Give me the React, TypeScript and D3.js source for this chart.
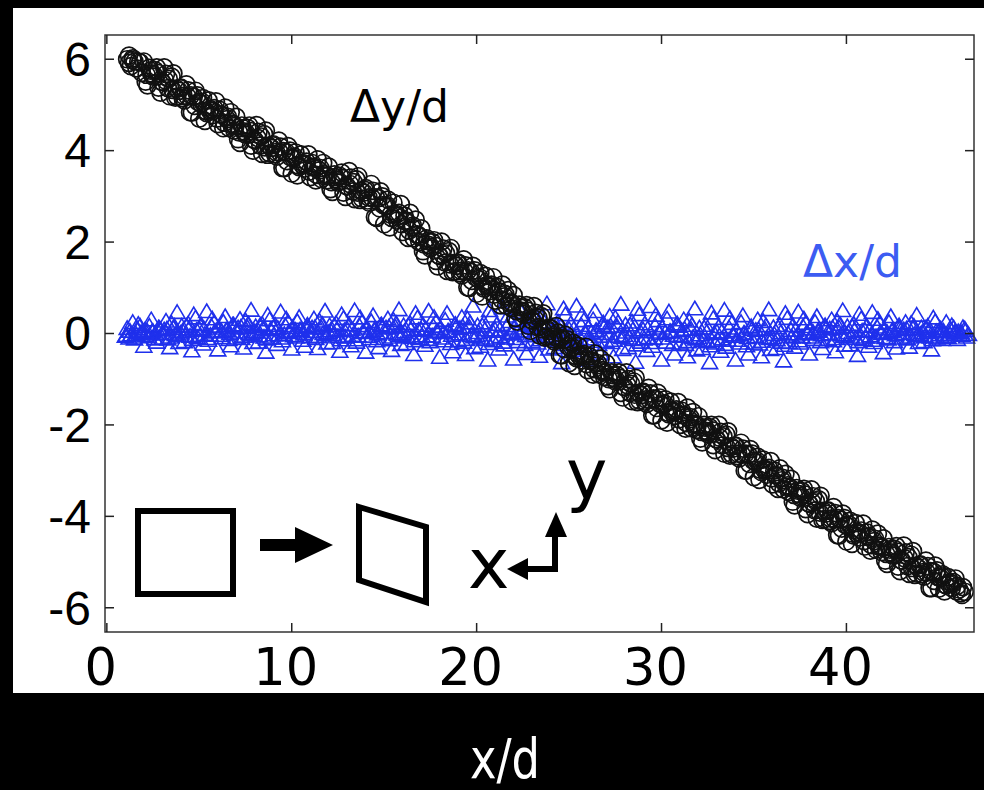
import React from 'react';
import * as d3 from 'd3';

// Δy/d series (black open circles)
const dyPoints: [number, number][] = [
  [1.1, 6.0], [1.2, 6.08], [1.3, 5.85], [1.4, 6.02], [1.5, 5.95], [1.7, 5.95], [1.9, 5.7],
  [2.1, 5.51], [2.3, 5.81], [2.5, 5.62], [2.7, 5.82], [2.9, 5.27],
  [3.1, 5.82], [3.3, 5.37], [3.5, 5.62], [3.7, 5.16], [3.9, 5.31],
  [4.1, 5.15], [4.3, 5.45], [4.5, 4.84], [4.7, 5.18], [4.9, 5.21],
  [5.1, 5.03], [5.3, 4.65], [5.5, 5.1], [5.7, 4.78], [5.9, 5.08],
  [6.1, 4.89], [6.3, 4.49], [6.5, 4.69], [6.7, 4.84], [6.9, 4.44],
  [7.1, 4.25], [7.3, 4.55], [7.5, 4.35], [7.7, 4.55], [7.9, 4.0],
  [8.1, 4.56], [8.3, 4.11], [8.5, 4.36], [8.7, 3.91], [8.9, 4.06],
  [9.1, 3.92], [9.3, 4.22], [9.5, 3.62], [9.7, 3.97], [9.9, 4.0],
  [10.1, 3.83], [10.3, 3.46], [10.5, 3.92], [10.7, 3.61], [10.9, 3.92],
  [11.1, 3.73], [11.3, 3.35], [11.5, 3.57], [11.7, 3.73], [11.9, 3.35],
  [12.1, 3.16], [12.3, 3.48], [12.5, 3.3], [12.7, 3.52], [12.9, 2.99],
  [13.1, 3.55], [13.3, 3.11], [13.5, 3.37], [13.7, 2.92], [13.9, 3.08],
  [14.1, 2.91], [14.3, 3.27], [14.5, 2.55], [14.7, 2.96], [14.9, 3.0],
  [15.1, 2.78], [15.3, 2.32], [15.5, 2.86], [15.7, 2.47], [15.9, 2.83],
  [16.1, 2.58], [16.3, 2.09], [16.5, 2.32], [16.7, 2.49], [16.9, 2.0],
  [17.1, 1.8], [17.3, 2.08], [17.5, 1.86], [17.7, 2.04], [17.9, 1.47],
  [18.1, 2.01], [18.3, 1.55], [18.5, 1.8], [18.7, 1.34], [18.9, 1.48],
  [19.1, 1.32], [19.3, 1.62], [19.5, 1.01], [19.7, 1.35], [19.9, 1.38],
  [20.1, 1.19], [20.3, 0.81], [20.5, 1.26], [20.7, 0.93], [20.9, 1.23],
  [21.1, 1.02], [21.3, 0.62], [21.5, 0.81], [21.7, 0.95], [21.9, 0.55],
  [22.1, 0.34], [22.3, 0.63], [22.5, 0.43], [22.7, 0.62], [22.9, 0.06],
  [23.1, 0.6], [23.3, 0.14], [23.5, 0.38], [23.7, -0.09], [23.9, 0.05],
  [24.1, -0.12], [24.3, 0.16], [24.5, -0.47], [24.7, -0.14], [24.9, -0.13],
  [25.1, -0.33], [25.3, -0.71], [25.5, -0.27], [25.7, -0.59], [25.9, -0.29],
  [26.1, -0.5], [26.3, -0.9], [26.5, -0.7], [26.7, -0.55], [26.9, -0.95],
  [27.1, -1.15], [27.3, -0.85], [27.5, -1.05], [27.7, -0.85], [27.9, -1.4],
  [28.1, -0.85], [28.3, -1.3], [28.5, -1.05], [28.7, -1.5], [28.9, -1.35],
  [29.1, -1.49], [29.3, -1.19], [29.5, -1.79], [29.7, -1.43], [29.9, -1.4],
  [30.1, -1.57], [30.3, -1.95], [30.5, -1.49], [30.7, -1.8], [30.9, -1.5],
  [31.1, -1.69], [31.3, -2.08], [31.5, -1.88], [31.7, -1.72], [31.9, -2.11],
  [32.1, -2.3], [32.3, -2.0], [32.5, -2.2], [32.7, -2.0], [32.9, -2.55],
  [33.1, -2.0], [33.3, -2.45], [33.5, -2.21], [33.7, -2.67], [33.9, -2.52],
  [34.1, -2.68], [34.3, -2.39], [34.5, -3.0], [34.7, -2.65], [34.9, -2.63],
  [35.1, -2.82], [35.3, -3.2], [35.5, -2.76], [35.7, -3.09], [35.9, -2.79],
  [36.1, -3.0], [36.3, -3.4], [36.5, -3.21], [36.7, -3.07], [36.9, -3.47],
  [37.1, -3.68], [37.3, -3.38], [37.5, -3.59], [37.7, -3.4], [37.9, -3.95],
  [38.1, -3.41], [38.3, -3.87], [38.5, -3.63], [38.7, -4.08], [38.9, -3.94],
  [39.1, -4.1], [39.3, -3.8], [39.5, -4.41], [39.7, -4.07], [39.9, -4.04],
  [40.1, -4.22], [40.3, -4.6], [40.5, -4.15], [40.7, -4.46], [40.9, -4.16],
  [41.1, -4.35], [41.3, -4.75], [41.5, -4.54], [41.7, -4.38], [41.9, -4.78],
  [42.1, -4.97], [42.3, -4.67], [42.5, -4.86], [42.7, -4.65], [42.9, -5.2],
  [43.1, -4.64], [43.3, -5.09], [43.5, -4.84], [43.7, -5.28], [43.9, -5.13],
  [44.1, -5.27], [44.3, -4.97], [44.5, -5.57], [44.7, -5.21], [44.9, -5.18],
  [45.1, -5.35], [45.3, -5.64], [45.5, -5.33], [45.7, -5.57], [45.9, -5.36],
  [46.1, -5.6], [46.25, -5.72], [46.3, -5.55], [46.4, -5.65],
  // second pass over the band
  [1.2, 5.92], [1.4, 5.98], [1.6, 5.8], [1.8, 5.93],
  [2.0, 5.95], [2.2, 5.43], [2.4, 5.69], [2.6, 5.76], [2.8, 5.38],
  [3.0, 5.5], [3.2, 5.68], [3.4, 5.19], [3.6, 5.69], [3.8, 5.18],
  [4.0, 5.38], [4.2, 5.1], [4.4, 5.32], [4.6, 4.83], [4.8, 5.31],
  [5.0, 4.7], [5.2, 5.15], [5.4, 4.82], [5.6, 4.91], [5.8, 4.93],
  [6.0, 4.58], [6.2, 4.79], [6.4, 4.94], [6.6, 4.5], [6.8, 4.59],
  [7.0, 4.74], [7.2, 4.17], [7.4, 4.42], [7.6, 4.5], [7.8, 4.11],
  [8.0, 4.23], [8.2, 4.41], [8.4, 3.93], [8.6, 4.44], [8.8, 3.94],
  [9.0, 4.14], [9.2, 3.87], [9.4, 4.09], [9.6, 3.62], [9.8, 4.1],
  [10.0, 3.5], [10.2, 3.96], [10.4, 3.64], [10.6, 3.73], [10.8, 3.76],
  [11.0, 3.42], [11.2, 3.65], [11.4, 3.81], [11.6, 3.38], [11.8, 3.48],
  [12.0, 3.65], [12.2, 3.1], [12.4, 3.37], [12.6, 3.45], [12.8, 3.08],
  [13.0, 3.22], [13.2, 3.41], [13.4, 2.94], [13.6, 3.44], [13.8, 2.95],
  [14.0, 3.18], [14.2, 2.86], [14.4, 3.12], [14.6, 2.53], [14.8, 3.11],
  [15.0, 2.39], [15.2, 2.93], [15.4, 2.53], [15.6, 2.62], [15.8, 2.64],
  [16.0, 2.22], [16.2, 2.47], [16.4, 2.64], [16.6, 2.08], [16.8, 2.17],
  [17.0, 2.3], [17.2, 1.71], [17.4, 1.94], [17.6, 2.0], [17.8, 1.59],
  [18.0, 1.69], [18.2, 1.86], [18.4, 1.37], [18.6, 1.87], [18.8, 1.36],
  [19.0, 1.55], [19.2, 1.27], [19.4, 1.49], [19.6, 1.0], [19.8, 1.48],
  [20.0, 0.87], [20.2, 1.32], [20.4, 0.98], [20.6, 1.06], [20.8, 1.07],
  [21.0, 0.72], [21.2, 0.92], [21.4, 1.07], [21.6, 0.61], [21.8, 0.7],
  [22.0, 0.84], [22.2, 0.26], [22.4, 0.5], [22.6, 0.57], [22.8, 0.17],
  [23.0, 0.28], [23.2, 0.45], [23.4, -0.04], [23.6, 0.44], [23.8, -0.07],
  [24.0, 0.12], [24.2, -0.17], [24.4, 0.02], [24.6, -0.48], [24.8, -0.03],
  [25.0, -0.65], [25.2, -0.2], [25.4, -0.54], [25.6, -0.46], [25.8, -0.45],
  [26.0, -0.8], [26.2, -0.59], [26.4, -0.44], [26.6, -0.89], [26.8, -0.8],
  [27.0, -0.65], [27.2, -1.22], [27.4, -0.97], [27.6, -0.91], [27.8, -1.3],
  [28.0, -1.18], [28.2, -1.0], [28.4, -1.48], [28.6, -0.97], [28.8, -1.47],
  [29.0, -1.27], [29.2, -1.54], [29.4, -1.31], [29.6, -1.79], [29.8, -1.3],
  [30.0, -1.9], [30.2, -1.44], [30.4, -1.77], [30.6, -1.68], [30.8, -1.66],
  [31.0, -2.0], [31.2, -1.78], [31.4, -1.62], [31.6, -2.07], [31.8, -1.97],
  [32.0, -1.81], [32.2, -2.38], [32.4, -2.13], [32.6, -2.05], [32.8, -2.44],
  [33.0, -2.32], [33.2, -2.15], [33.4, -2.63], [33.6, -2.14], [33.8, -2.64],
  [34.0, -2.45], [34.2, -2.73], [34.4, -2.52], [34.6, -3.0], [34.8, -2.53],
  [35.0, -3.14], [35.2, -2.7], [35.4, -3.03], [35.6, -2.96], [35.8, -2.94],
  [36.0, -3.3], [36.2, -3.1], [36.4, -2.95], [36.6, -3.41], [36.8, -3.32],
  [37.0, -3.18], [37.2, -3.76], [37.4, -3.51], [37.6, -3.45], [37.8, -3.84],
  [38.0, -3.73], [38.2, -3.56], [38.4, -4.05], [38.6, -3.55], [38.8, -4.06],
  [39.0, -3.87], [39.2, -4.15], [39.4, -3.93], [39.6, -4.42], [39.8, -3.94],
  [40.0, -4.55], [40.2, -4.1], [40.4, -4.42], [40.6, -4.34], [40.8, -4.31],
  [41.0, -4.66], [41.2, -4.44], [41.4, -4.29], [41.6, -4.73], [41.8, -4.64],
  [42.0, -4.48], [42.2, -5.04], [42.4, -4.79], [42.6, -4.71], [42.8, -5.1],
  [43.0, -4.97], [43.2, -4.79], [43.4, -5.26], [43.6, -4.76], [43.8, -5.25],
  [44.0, -5.05], [44.2, -5.32], [44.4, -5.09], [44.6, -5.57], [44.8, -5.08],
  [45.0, -5.58], [45.2, -5.27], [45.4, -5.51], [45.6, -5.45], [45.8, -5.44],
  [46.0, -5.52], [46.2, -5.68],
  // band core
  [2.15, 5.66], [2.35, 5.75], [2.55, 5.65], [2.75, 5.7], [2.95, 5.51],
  [3.15, 5.54], [3.35, 5.57], [3.55, 5.33], [3.75, 5.36], [3.95, 5.37],
  [4.15, 5.2], [4.35, 5.19], [4.55, 5.21], [4.75, 4.98], [4.95, 5.06],
  [5.15, 5.07], [5.35, 4.87], [5.55, 4.88], [5.75, 4.87], [5.95, 4.7],
  [6.15, 4.79], [6.35, 4.61], [6.55, 4.74], [6.75, 4.56], [6.95, 4.54],
  [7.15, 4.4], [7.35, 4.49], [7.55, 4.38], [7.75, 4.43], [7.95, 4.24],
  [8.15, 4.28], [8.35, 4.31], [8.55, 4.07], [8.75, 4.11], [8.95, 4.12],
  [9.15, 3.97], [9.35, 3.96], [9.55, 3.99], [9.75, 3.77], [9.95, 3.85],
  [10.15, 3.87], [10.35, 3.68], [10.55, 3.7], [10.75, 3.7], [10.95, 3.54],
  [11.15, 3.63], [11.35, 3.47], [11.55, 3.62], [11.75, 3.45], [11.95, 3.45],
  [12.15, 3.31], [12.35, 3.42], [12.55, 3.33], [12.75, 3.4], [12.95, 3.23],
  [13.15, 3.27], [13.35, 3.31], [13.55, 3.08], [13.75, 3.12], [13.95, 3.14],
  [14.15, 2.98], [14.35, 2.96], [14.55, 2.98], [14.75, 2.74], [14.95, 2.81],
  [15.15, 2.81], [15.35, 2.6], [15.55, 2.6], [15.75, 2.57], [15.95, 2.39],
  [16.15, 2.45], [16.35, 2.25], [16.55, 2.36], [16.75, 2.16], [16.95, 2.12],
  [17.15, 1.95], [17.35, 2.02], [17.55, 1.89], [17.75, 1.92], [17.95, 1.71],
  [18.15, 1.73], [18.35, 1.75], [18.55, 1.51], [18.75, 1.54], [18.95, 1.54],
  [19.15, 1.37], [19.35, 1.36], [19.55, 1.38], [19.75, 1.15], [19.95, 1.23],
  [20.15, 1.23], [20.35, 1.03], [20.55, 1.04], [20.75, 1.02], [20.95, 0.85],
  [21.15, 0.92], [21.35, 0.74], [21.55, 0.86], [21.75, 0.67], [21.95, 0.65],
  [22.15, 0.49], [22.35, 0.57], [22.55, 0.46], [22.75, 0.5], [22.95, 0.3],
  [23.15, 0.32], [23.35, 0.34], [23.55, 0.09], [23.75, 0.11], [23.95, 0.11],
  [24.15, -0.07], [24.35, -0.1], [24.55, -0.1], [24.75, -0.34], [24.95, -0.28],
  [25.15, -0.29], [25.35, -0.49], [25.55, -0.49], [25.75, -0.5], [25.95, -0.67],
  [26.15, -0.6], [26.35, -0.78], [26.55, -0.65], [26.75, -0.83], [26.95, -0.85],
  [27.15, -1.0], [27.35, -0.91], [27.55, -1.02], [27.75, -0.97], [27.95, -1.16],
  [28.15, -1.13], [28.35, -1.1], [28.55, -1.34], [28.75, -1.3], [28.95, -1.29],
  [29.15, -1.44], [29.35, -1.45], [29.55, -1.42], [29.75, -1.63], [29.95, -1.55],
  [30.15, -1.53], [30.35, -1.73], [30.55, -1.71], [30.75, -1.71], [30.95, -1.88],
  [31.15, -1.79], [31.35, -1.96], [31.55, -1.83], [31.75, -2.0], [31.95, -2.01],
  [32.15, -2.15], [32.35, -2.06], [32.55, -2.17], [32.75, -2.12], [32.95, -2.31],
  [33.15, -2.28], [33.35, -2.25], [33.55, -2.5], [33.75, -2.47], [33.95, -2.46],
  [34.15, -2.63], [34.35, -2.65], [34.55, -2.63], [34.75, -2.85], [34.95, -2.78],
  [35.15, -2.78], [35.35, -2.98], [35.55, -2.98], [35.75, -3.0], [35.95, -3.17],
  [36.15, -3.1], [36.35, -3.28], [36.55, -3.16], [36.75, -3.35], [36.95, -3.37],
  [37.15, -3.53], [37.35, -3.44], [37.55, -3.56], [37.75, -3.52], [37.95, -3.71],
  [38.15, -3.69], [38.35, -3.67], [38.55, -3.92], [38.75, -3.88], [38.95, -3.88],
  [39.15, -4.05], [39.35, -4.06], [39.55, -4.04], [39.75, -4.27], [39.95, -4.19],
  [40.15, -4.18], [40.35, -4.38], [40.55, -4.37], [40.75, -4.37], [40.95, -4.54],
  [41.15, -4.45], [41.35, -4.63], [41.55, -4.49], [41.75, -4.66], [41.95, -4.68],
  [42.15, -4.82], [42.35, -4.73], [42.55, -4.83], [42.75, -4.77], [42.95, -4.96],
  [43.15, -4.92], [43.35, -4.89], [43.55, -5.13], [43.75, -5.08], [43.95, -5.07],
  [44.15, -5.22], [44.35, -5.23], [44.55, -5.2], [44.75, -5.41], [44.95, -5.33],
  [45.15, -5.31], [45.35, -5.5], [45.55, -5.48], [45.75, -5.48], [45.95, -5.64],
];

// Δx/d series (blue open triangles)
const dxPoints: [number, number][] = [
  [1.0, -0.08], [1.2, -0.12], [1.4, 0.22], [1.6, -0.05], [1.8, 0.14],
  [2.0, -0.3], [2.2, 0.02], [2.4, 0.28], [2.6, -0.14], [2.8, 0.1],
  [3.0, -0.12], [3.2, 0.25], [3.4, -0.33], [3.6, 0.09], [3.8, 0.44],
  [4.0, -0.01], [4.2, -0.2], [4.4, 0.19], [4.6, -0.4], [4.8, 0.32],
  [5.0, 0.08], [5.2, -0.25], [5.4, 0.46], [5.6, -0.06], [5.8, 0.21],
  [6.0, -0.38], [6.2, 0.03], [6.4, 0.35], [6.6, -0.15], [6.8, 0.16],
  [7.0, -0.12], [7.2, 0.29], [7.4, -0.34], [7.6, 0.11], [7.8, 0.49],
  [8.0, 0.02], [8.2, -0.21], [8.4, 0.18], [8.6, -0.43], [8.8, 0.28],
  [9.0, 0.1], [9.2, -0.26], [9.4, 0.45], [9.6, -0.04], [9.8, 0.22],
  [10.0, -0.36], [10.2, 0.05], [10.4, 0.33], [10.6, -0.17], [10.8, 0.13],
  [11.0, -0.09], [11.2, 0.3], [11.4, -0.35], [11.6, 0.1], [11.8, 0.47],
  [12.0, 0.0], [12.2, -0.22], [12.4, 0.2], [12.6, -0.41], [12.8, 0.31],
  [13.0, 0.07], [13.2, -0.29], [13.4, 0.48], [13.6, -0.08], [13.8, 0.22],
  [14.0, -0.43], [14.2, 0.02], [14.4, 0.37], [14.6, -0.18], [14.8, 0.15],
  [15.0, -0.13], [15.2, 0.3], [15.4, -0.39], [15.6, 0.12], [15.8, 0.5],
  [16.0, -0.03], [16.2, -0.24], [16.4, 0.2], [16.6, -0.48], [16.8, 0.32],
  [17.0, 0.07], [17.2, -0.28], [17.4, 0.47], [17.6, -0.08], [17.8, 0.22],
  [18.0, -0.54], [18.2, 0.0], [18.4, 0.42], [18.6, -0.24], [18.8, 0.15],
  [19.0, -0.18], [19.2, 0.33], [19.4, -0.48], [19.6, 0.12], [19.8, 0.58],
  [20.0, -0.06], [20.2, -0.3], [20.4, 0.21], [20.6, -0.6], [20.8, 0.36],
  [21.0, 0.06], [21.2, -0.36], [21.4, 0.54], [21.6, -0.12], [21.8, 0.24],
  [22.0, -0.58], [22.2, 0.02], [22.4, 0.45], [22.6, -0.26], [22.8, 0.16],
  [23.0, -0.2], [23.2, 0.36], [23.4, -0.52], [23.6, 0.13], [23.8, 0.63],
  [24.0, -0.07], [24.2, -0.33], [24.4, 0.23], [24.6, -0.66], [24.8, 0.39],
  [25.0, 0.07], [25.2, -0.39], [25.4, 0.58], [25.6, -0.13], [25.8, 0.26],
  [26.0, -0.6], [26.2, 0.0], [26.4, 0.46], [26.6, -0.26], [26.8, 0.16],
  [27.0, -0.2], [27.2, 0.36], [27.4, -0.53], [27.6, 0.13], [27.8, 0.62],
  [28.0, -0.06], [28.2, -0.33], [28.4, 0.23], [28.6, -0.65], [28.8, 0.39],
  [29.0, 0.06], [29.2, -0.39], [29.4, 0.57], [29.6, -0.13], [29.8, 0.26],
  [30.0, -0.6], [30.2, 0.0], [30.4, 0.45], [30.6, -0.26], [30.8, 0.16],
  [31.0, -0.23], [31.2, 0.28], [31.4, -0.53], [31.6, 0.07], [31.8, 0.52],
  [32.0, -0.11], [32.2, -0.35], [32.4, 0.16], [32.6, -0.66], [32.8, 0.31],
  [33.0, 0.01], [33.2, -0.41], [33.4, 0.49], [33.6, -0.17], [33.8, 0.2],
  [34.0, -0.6], [34.2, -0.05], [34.4, 0.37], [34.6, -0.29], [34.8, 0.1],
  [35.0, -0.23], [35.2, 0.28], [35.4, -0.53], [35.6, 0.07], [35.8, 0.5],
  [36.0, -0.11], [36.2, -0.35], [36.4, 0.16], [36.6, -0.62], [36.8, 0.31],
  [37.0, 0.05], [37.2, -0.32], [37.4, 0.45], [37.6, -0.1], [37.8, 0.2],
  [38.0, -0.47], [38.2, 0.0], [38.4, 0.35], [38.6, -0.2], [38.8, 0.13],
  [39.0, -0.15], [39.2, 0.28], [39.4, -0.42], [39.6, 0.1], [39.8, 0.48],
  [40.0, -0.05], [40.2, -0.27], [40.4, 0.18], [40.6, -0.5], [40.8, 0.3],
  [41.0, 0.05], [41.2, -0.3], [41.4, 0.44], [41.6, -0.1], [41.8, 0.2],
  [42.0, -0.44], [42.2, 0.0], [42.4, 0.35], [42.6, -0.2], [42.8, 0.12],
  [43.0, -0.12], [43.2, 0.22], [43.4, -0.32], [43.6, 0.08], [43.8, 0.38],
  [44.0, -0.04], [44.2, -0.2], [44.4, 0.14], [44.6, -0.38], [44.8, 0.24],
  [45.0, 0.03], [45.2, -0.15], [45.4, 0.22], [45.6, -0.05], [45.8, 0.1],
  [46.0, -0.15], [46.2, 0.0], [46.4, 0.08], [46.6, -0.04],
  // second pass
  [1.1, 0.09], [1.3, -0.05], [1.5, -0.14], [1.7, 0.18], [1.9, -0.02],
  [2.1, -0.06], [2.3, 0.14], [2.5, 0.02], [2.7, -0.21], [2.9, 0.06],
  [3.1, 0.06], [3.3, -0.14], [3.5, 0.2], [3.7, -0.04], [3.9, -0.22],
  [4.1, 0.03], [4.3, 0.14], [4.5, -0.08], [4.7, 0.39], [4.9, -0.11],
  [5.1, 0.17], [5.3, -0.04], [5.5, -0.17], [5.7, 0.3], [5.9, 0.01],
  [6.1, -0.06], [6.3, 0.23], [6.5, 0.05], [6.7, -0.29], [6.9, 0.12],
  [7.1, 0.1], [7.3, -0.13], [7.5, 0.26], [7.7, -0.02], [7.9, -0.22],
  [8.1, 0.01], [8.3, 0.16], [8.5, -0.1], [8.7, 0.38], [8.9, -0.12],
  [9.1, 0.16], [9.3, -0.05], [9.5, -0.18], [9.7, 0.3], [9.9, 0.0],
  [10.1, -0.07], [10.3, 0.24], [10.5, 0.04], [10.7, -0.3], [10.9, 0.12],
  [11.1, 0.1], [11.3, -0.13], [11.5, 0.25], [11.7, -0.02], [11.9, -0.23],
  [12.1, 0.04], [12.3, 0.15], [12.5, -0.09], [12.7, 0.39], [12.9, -0.1],
  [13.1, 0.17], [13.3, -0.06], [13.5, -0.21], [13.7, 0.32], [13.9, 0.0],
  [14.1, -0.08], [14.3, 0.24], [14.5, 0.05], [14.7, -0.33], [14.9, 0.12],
  [15.1, 0.1], [15.3, -0.16], [15.5, 0.27], [15.7, -0.03], [15.9, -0.26],
  [16.1, 0.02], [16.3, 0.15], [16.5, -0.11], [16.7, 0.42], [16.9, -0.13],
  [17.1, 0.16], [17.3, -0.07], [17.5, -0.2], [17.7, 0.33], [17.9, 0.01],
  [18.1, -0.12], [18.3, 0.27], [18.5, 0.03], [18.7, -0.42], [18.9, 0.12],
  [19.1, 0.09], [19.3, -0.21], [19.5, 0.3], [19.7, -0.06], [19.9, -0.33],
  [20.1, 0.0], [20.3, 0.15], [20.5, -0.15], [20.7, 0.48], [20.9, -0.18],
  [21.1, 0.18], [21.3, -0.09], [21.5, -0.27], [21.7, 0.36], [21.9, -0.03],
  [22.1, -0.13], [22.3, 0.29], [22.5, 0.03], [22.7, -0.46], [22.9, 0.13],
  [23.1, 0.1], [23.3, -0.23], [23.5, 0.33], [23.7, -0.07], [23.9, -0.36],
  [24.1, 0.0], [24.3, 0.16], [24.5, -0.16], [24.7, 0.52], [24.9, -0.2],
  [25.1, 0.2], [25.3, -0.1], [25.5, -0.29], [25.7, 0.39], [25.9, -0.03],
  [26.1, -0.14], [26.3, 0.28], [26.5, 0.04], [26.7, -0.45], [26.9, 0.12],
  [27.1, 0.11], [27.3, -0.22], [27.5, 0.32], [27.7, -0.08], [27.9, -0.37],
  [28.1, 0.01], [28.3, 0.17], [28.5, -0.15], [28.7, 0.51], [28.9, -0.21],
  [29.1, 0.19], [29.3, -0.11], [29.5, -0.3], [29.7, 0.38], [29.9, -0.02],
  [30.1, -0.12], [30.3, 0.3], [30.5, 0.02], [30.7, -0.47], [30.9, 0.14],
  [31.1, 0.04], [31.3, -0.26], [31.5, 0.25], [31.7, -0.11], [31.9, -0.38],
  [32.1, -0.05], [32.3, 0.1], [32.5, -0.2], [32.7, 0.43], [32.9, -0.23],
  [33.1, 0.13], [33.3, -0.14], [33.5, -0.32], [33.7, 0.31], [33.9, -0.08],
  [34.1, -0.17], [34.3, 0.22], [34.5, -0.02], [34.7, -0.47], [34.9, 0.07],
  [35.1, 0.05], [35.3, -0.25], [35.5, 0.24], [35.7, -0.12], [35.9, -0.37],
  [36.1, -0.04], [36.3, 0.11], [36.5, -0.21], [36.7, 0.42], [36.9, -0.22],
  [37.1, 0.15], [37.3, -0.08], [37.5, -0.23], [37.7, 0.3], [37.9, -0.03],
  [38.1, -0.1], [38.3, 0.23], [38.5, 0.03], [38.7, -0.35], [38.9, 0.1],
  [39.1, 0.08], [39.3, -0.18], [39.5, 0.25], [39.7, -0.05], [39.9, -0.28],
  [40.1, 0.0], [40.3, 0.13], [40.5, -0.13], [40.7, 0.4], [40.9, -0.15],
  [41.1, 0.14], [41.3, -0.07], [41.5, -0.22], [41.7, 0.29], [41.9, -0.02],
  [42.1, -0.11], [42.3, 0.22], [42.5, 0.04], [42.7, -0.34], [42.9, 0.1],
  [43.1, 0.06], [43.3, -0.14], [43.5, 0.2], [43.7, -0.04], [43.9, -0.22],
  [44.1, 0.0], [44.3, 0.1], [44.5, -0.1], [44.7, 0.32], [44.9, -0.12],
  [45.1, 0.08], [45.3, -0.04], [45.5, -0.11], [45.7, 0.15], [45.9, -0.01],
  [46.1, -0.05], [46.3, 0.11], [46.5, -0.1],
  // band core
  [1.05, -0.06], [1.25, 0.03], [1.45, -0.1], [1.65, 0.08], [1.85, 0.0],
  [2.05, 0.05], [2.25, -0.09], [2.45, 0.02], [2.65, -0.03], [2.85, 0.09],
  [3.05, -0.02], [3.25, 0.08], [3.45, -0.1], [3.65, 0.14], [3.85, -0.06],
  [4.05, 0.14], [4.25, -0.06], [4.45, 0.08], [4.65, -0.15], [4.85, 0.05],
  [5.05, -0.06], [5.25, 0.08], [5.45, -0.13], [5.65, 0.14], [5.85, 0.03],
  [6.05, 0.1], [6.25, -0.11], [6.45, 0.05], [6.65, -0.02], [6.85, 0.17],
  [7.05, 0.01], [7.25, 0.12], [7.45, -0.08], [7.65, 0.19], [7.85, -0.04],
  [8.05, 0.13], [8.25, -0.07], [8.45, 0.09], [8.65, -0.14], [8.85, 0.06],
  [9.05, -0.05], [9.25, 0.09], [9.45, -0.12], [9.65, 0.15], [9.85, 0.02],
  [10.05, 0.11], [10.25, -0.1], [10.45, 0.06], [10.65, -0.03], [10.85, 0.16],
  [11.05, 0.02], [11.25, 0.11], [11.45, -0.09], [11.65, 0.18], [11.85, -0.05],
  [12.05, 0.15], [12.25, -0.05], [12.45, 0.07], [12.65, -0.16], [12.85, 0.04],
  [13.05, -0.08], [13.25, 0.07], [13.45, -0.16], [13.65, 0.15], [13.85, 0.02],
  [14.05, 0.1], [14.25, -0.13], [14.45, 0.05], [14.65, -0.03], [14.85, 0.17],
  [15.05, 0.0], [15.25, 0.12], [15.45, -0.1], [15.65, 0.2], [15.85, -0.06],
  [16.05, 0.15], [16.25, -0.08], [16.45, 0.07], [16.65, -0.18], [16.85, 0.05],
  [17.05, -0.07], [17.25, 0.08], [17.45, -0.15], [17.65, 0.14], [17.85, 0.03],
  [18.05, 0.09], [18.25, -0.18], [18.45, 0.03], [18.65, -0.06], [18.85, 0.18],
  [19.05, -0.03], [19.25, 0.12], [19.45, -0.15], [19.65, 0.21], [19.85, -0.09],
  [20.05, 0.15], [20.25, -0.12], [20.45, 0.06], [20.65, -0.24], [20.85, 0.03],
  [21.05, -0.12], [21.25, 0.06], [21.45, -0.21], [21.65, 0.15], [21.85, 0.0],
  [22.05, 0.1], [22.25, -0.2], [22.45, 0.03], [22.65, -0.07], [22.85, 0.2],
  [23.05, -0.03], [23.25, 0.13], [23.45, -0.16], [23.65, 0.23], [23.85, -0.1],
  [24.05, 0.16], [24.25, -0.13], [24.45, 0.07], [24.65, -0.26], [24.85, 0.03],
  [25.05, -0.13], [25.25, 0.07], [25.45, -0.23], [25.65, 0.16], [25.85, 0.0],
  [26.05, 0.11], [26.25, -0.19], [26.45, 0.04], [26.65, -0.08], [26.85, 0.21],
  [27.05, -0.02], [27.25, 0.14], [27.45, -0.17], [27.65, 0.22], [27.85, -0.11],
  [28.05, 0.17], [28.25, -0.12], [28.45, 0.06], [28.65, -0.27], [28.85, 0.02],
  [29.05, -0.14], [29.25, 0.08], [29.45, -0.22], [29.65, 0.15], [29.85, 0.01],
  [30.05, 0.1], [30.25, -0.21], [30.45, 0.02], [30.65, -0.06], [30.85, 0.19],
  [31.05, -0.08], [31.25, 0.07], [31.45, -0.2], [31.65, 0.16], [31.85, -0.14],
  [32.05, 0.1], [32.25, -0.17], [32.45, 0.01], [32.65, -0.29], [32.85, -0.02],
  [33.05, -0.17], [33.25, 0.01], [33.45, -0.26], [33.65, 0.1], [33.85, -0.05],
  [34.05, 0.04], [34.25, -0.23], [34.45, -0.02], [34.65, -0.11], [34.85, 0.13],
  [35.05, -0.09], [35.25, 0.06], [35.45, -0.19], [35.65, 0.15], [35.85, -0.13],
  [36.05, 0.11], [36.25, -0.16], [36.45, 0.0], [36.65, -0.28], [36.85, -0.03],
  [37.05, -0.1], [37.25, 0.05], [37.45, -0.18], [37.65, 0.13], [37.85, 0.0],
  [38.05, 0.08], [38.25, -0.15], [38.45, 0.03], [38.65, -0.05], [38.85, 0.15],
  [39.05, -0.03], [39.25, 0.1], [39.45, -0.13], [39.65, 0.18], [39.85, -0.08],
  [40.05, 0.13], [40.25, -0.1], [40.45, 0.05], [40.65, -0.2], [40.85, 0.03],
  [41.05, -0.1], [41.25, 0.05], [41.45, -0.17], [41.65, 0.12], [41.85, 0.01],
  [42.05, 0.08], [42.25, -0.14], [42.45, 0.03], [42.65, -0.05], [42.85, 0.15],
  [43.05, -0.02], [43.25, 0.08], [43.45, -0.1], [43.65, 0.14], [43.85, -0.06],
  [44.05, 0.1], [44.25, -0.08], [44.45, 0.04], [44.65, -0.16], [44.85, 0.02],
  [45.05, -0.05], [45.25, 0.03], [45.45, -0.09], [45.65, 0.06], [45.85, 0.0],
  [46.05, 0.02], [46.25, -0.06], [46.45, 0.04],
];

const xTicks = [0, 10, 20, 30, 40];
const yTicks = [-6, -4, -2, 0, 2, 4, 6];

const W = 984;
const H = 790;
const plot = { left: 105, right: 974, top: 35, bottom: 632 };

const BLUE = '#1f30ec';
const tri = 'M0,-8.5L8,5L-8,5Z';

export default function App() {
  const x = d3.scaleLinear().domain([-0.1, 46.9]).range([plot.left, plot.right]);
  const y = d3.scaleLinear().domain([-6.53, 6.53]).range([plot.bottom, plot.top]);
  const tickLen = 9;

  return (
    <svg
      width={W}
      height={H}
      style={{ position: 'absolute', left: 0, top: 0, display: 'block' }}
    >
      <rect x={0} y={0} width={W} height={H} fill="#000" />
      <rect x={13} y={8} width={W - 13} height={685} fill="#fff" />

      {/* Δx/d triangles */}
      <g fill="none" stroke={BLUE} strokeWidth={1.6}>
        {dxPoints.map((d, i) => (
          <path key={i} d={tri} transform={`translate(${x(d[0])},${y(d[1])})`} />
        ))}
      </g>

      {/* Δy/d circles */}
      <g fill="none" stroke="#111" strokeWidth={1.7}>
        {dyPoints.map((d, i) => (
          <circle key={i} cx={x(d[0])} cy={y(d[1])} r={8.5} />
        ))}
      </g>

      {/* frame */}
      <rect
        x={plot.left}
        y={plot.top}
        width={plot.right - plot.left}
        height={plot.bottom - plot.top}
        fill="none"
        stroke="#333"
        strokeWidth={1.5}
      />
      <g stroke="#222" strokeWidth={1.5}>
        {xTicks.map(t => (
          <g key={`xt-${t}`}>
            <line x1={x(t)} x2={x(t)} y1={plot.bottom} y2={plot.bottom - tickLen} />
            <line x1={x(t)} x2={x(t)} y1={plot.top} y2={plot.top + tickLen} />
          </g>
        ))}
        {yTicks.map(t => (
          <g key={`yt-${t}`}>
            <line x1={plot.left} x2={plot.left + tickLen} y1={y(t)} y2={y(t)} />
            <line x1={plot.right} x2={plot.right - tickLen} y1={y(t)} y2={y(t)} />
          </g>
        ))}
      </g>

      {/* tick labels */}
      {xTicks.map(t => (
        <text
          key={`xl-${t}`}
          x={x(t) - 6}
          y={685}
          textAnchor="middle"
          fill="#000"
          style={{ fontFamily: 'DejaVu Sans', fontSize: 51 }}
        >
          {t}
        </text>
      ))}
      {yTicks.map(t => (
        <text
          key={`yl-${t}`}
          x={91}
          y={y(t)}
          dy="0.35em"
          textAnchor="end"
          fill="#000"
          style={{ fontFamily: 'Liberation Sans', fontSize: 48 }}
        >
          {t}
        </text>
      ))}

      {/* series labels */}
      <text x={350} y={122} fill="#000" style={{ fontFamily: 'DejaVu Sans', fontSize: 44 }}>
        Δy/d
      </text>
      <text x={803} y={277} fill="#3c5cf2" style={{ fontFamily: 'DejaVu Sans', fontSize: 44 }}>
        Δx/d
      </text>

      {/* inset sketch: square sheared into parallelogram */}
      <g fill="none" stroke="#000" strokeWidth={6}>
        <rect x={138} y={511} width={95} height={83} />
        <path d="M359,507L426,527L426,602L359,580Z" />
      </g>
      <path d="M260,539H295V527L333,545L295,563V551H260Z" fill="#000" />

      {/* x / y axes glyph */}
      <g fill="#000">
        <path d="M545,537L556,512L567,537Z" />
        <rect x={552} y={535} width={6} height={37} />
        <rect x={525} y={566} width={33} height={6} />
        <path d="M507,569L528,558V580Z" />
      </g>
      <text x={468} y={588} fill="#000" style={{ fontFamily: 'DejaVu Sans', fontSize: 70 }}>
        x
      </text>
      <text x={566} y={499} fill="#000" style={{ fontFamily: 'DejaVu Sans', fontSize: 70 }}>
        y
      </text>

      {/* axis title */}
      <text
        x={505}
        y={778}
        textAnchor="middle"
        fill="#fff"
        transform="translate(505,0) scale(0.8,1) translate(-505,0)"
        style={{ fontFamily: 'DejaVu Sans', fontSize: 56 }}
      >
        x/d
      </text>
    </svg>
  );
}
